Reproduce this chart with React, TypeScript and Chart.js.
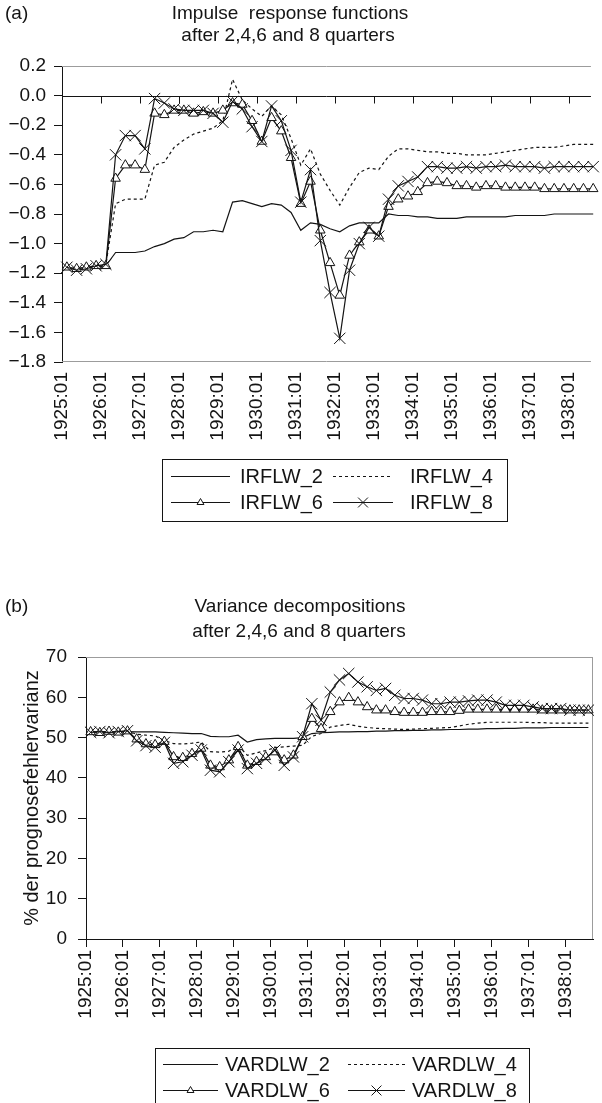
import React, { useEffect, useRef } from 'react';
import { Chart, registerables } from 'chart.js';

Chart.register(...registerables);

// ---------- data ----------
const xTickLabels = ['1925:01', '1926:01', '1927:01', '1928:01', '1929:01', '1930:01', '1931:01', '1932:01', '1933:01', '1934:01', '1935:01', '1936:01', '1937:01', '1938:01'];
const quartersPerLabel = 4;

const irfNames = ['IRFLW_2', 'IRFLW_4', 'IRFLW_6', 'IRFLW_8'];
const irfTicks = [-1.8, -1.6, -1.4, -1.2, -1.0, -0.8, -0.6, -0.4, -0.2, 0.0, 0.2];

const irflw2 = [-1.16, -1.17, -1.16, -1.16, -1.15, -1.06, -1.06, -1.06, -1.05, -1.02, -1.00, -0.97, -0.96, -0.92, -0.92, -0.91, -0.92, -0.72, -0.71, -0.73, -0.75, -0.73, -0.74, -0.79, -0.91, -0.86, -0.87, -0.90, -0.92, -0.88, -0.86, -0.86, -0.86, -0.80, -0.81, -0.81, -0.82, -0.82, -0.83, -0.83, -0.83, -0.82, -0.82, -0.82, -0.82, -0.82, -0.81, -0.81, -0.81, -0.81, -0.80, -0.80, -0.80, -0.80, -0.80];
const irflw4 = [-1.16, -1.17, -1.16, -1.15, -1.14, -0.73, -0.70, -0.70, -0.70, -0.47, -0.45, -0.35, -0.30, -0.26, -0.24, -0.22, -0.17, 0.11, -0.03, -0.09, -0.14, -0.07, -0.13, -0.29, -0.47, -0.36, -0.53, -0.64, -0.74, -0.62, -0.52, -0.49, -0.50, -0.41, -0.36, -0.36, -0.37, -0.38, -0.38, -0.39, -0.39, -0.40, -0.40, -0.40, -0.39, -0.38, -0.37, -0.36, -0.35, -0.35, -0.35, -0.34, -0.33, -0.33, -0.33];
const irflw6 = [-1.16, -1.17, -1.16, -1.15, -1.15, -0.56, -0.47, -0.47, -0.50, -0.12, -0.13, -0.10, -0.10, -0.12, -0.11, -0.12, -0.10, -0.05, -0.06, -0.17, -0.31, -0.15, -0.24, -0.42, -0.73, -0.58, -0.91, -1.13, -1.35, -1.08, -0.99, -0.91, -0.95, -0.75, -0.70, -0.68, -0.65, -0.59, -0.58, -0.59, -0.61, -0.61, -0.62, -0.61, -0.61, -0.62, -0.62, -0.62, -0.62, -0.63, -0.63, -0.63, -0.63, -0.63, -0.63];
const irflw8 = [-1.16, -1.18, -1.17, -1.15, -1.14, -0.40, -0.27, -0.27, -0.36, -0.02, -0.05, -0.09, -0.10, -0.10, -0.10, -0.12, -0.18, -0.04, -0.09, -0.21, -0.31, -0.07, -0.17, -0.37, -0.72, -0.50, -0.98, -1.33, -1.64, -1.18, -1.00, -0.89, -0.95, -0.70, -0.61, -0.58, -0.55, -0.48, -0.48, -0.49, -0.49, -0.48, -0.49, -0.48, -0.48, -0.47, -0.48, -0.48, -0.48, -0.49, -0.48, -0.48, -0.48, -0.48, -0.48];

const varNames = ['VARDLW_2', 'VARDLW_4', 'VARDLW_6', 'VARDLW_8'];
const varTicks = [0, 10, 20, 30, 40, 50, 60, 70];

const vardlw2 = [51.5, 51.4, 51.4, 51.4, 51.5, 51.4, 51.4, 51.4, 51.3, 51.2, 51.1, 51.0, 51.0, 50.3, 50.2, 50.2, 50.6, 48.9, 49.5, 49.7, 49.8, 49.8, 49.8, 50.0, 51.0, 51.2, 51.3, 51.4, 51.4, 51.5, 51.5, 51.6, 51.6, 51.7, 51.7, 51.8, 51.8, 51.9, 51.9, 52.0, 52.0, 52.1, 52.1, 52.2, 52.2, 52.3, 52.3, 52.4, 52.4, 52.4, 52.5, 52.5, 52.5, 52.5, 52.5];
const vardlw4 = [51.5, 51.3, 51.4, 51.4, 51.6, 50.8, 50.6, 50.4, 49.3, 48.5, 48.4, 48.6, 48.9, 46.5, 46.4, 46.6, 48.1, 45.6, 46.2, 46.8, 47.5, 47.7, 47.9, 48.1, 50.3, 51.0, 52.6, 53.0, 53.3, 52.8, 52.5, 52.3, 52.2, 52.1, 52.0, 52.1, 52.2, 52.3, 52.4, 52.5, 52.9, 53.3, 53.6, 53.8, 53.8, 53.8, 53.8, 53.8, 53.7, 53.7, 53.6, 53.6, 53.6, 53.6, 53.6];
const vardlw6 = [51.4, 51.2, 51.5, 51.3, 51.6, 49.6, 48.4, 48.2, 49.0, 45.2, 45.0, 46.0, 47.3, 43.1, 42.7, 44.4, 47.7, 43.1, 44.0, 45.2, 46.4, 44.4, 45.6, 50.2, 54.7, 52.2, 56.4, 58.8, 59.9, 58.8, 57.6, 56.8, 56.8, 56.4, 56.2, 56.2, 56.2, 56.4, 56.4, 56.4, 56.7, 57.0, 57.0, 57.0, 57.0, 57.0, 57.0, 57.0, 57.0, 56.8, 56.8, 56.8, 56.8, 56.8, 56.8];
const vardlw8 = [51.3, 51.5, 51.2, 51.5, 51.7, 49.2, 48.0, 47.6, 48.8, 43.6, 44.0, 45.6, 46.9, 41.9, 41.5, 44.0, 46.9, 42.3, 43.6, 44.8, 46.9, 43.1, 45.2, 50.2, 58.4, 54.3, 61.3, 64.3, 65.9, 63.8, 62.6, 61.7, 62.2, 60.5, 59.7, 59.7, 59.3, 58.4, 58.4, 58.8, 58.8, 59.1, 59.3, 59.3, 58.8, 58.0, 58.0, 58.0, 57.6, 57.2, 57.2, 57.2, 56.8, 56.8, 56.8];

// ---------- styling ----------
const FONT = "'Liberation Sans', Arial, Helvetica, sans-serif";
const INK = '#141414';
const FRAME = '#9c9c9c';

type Marker = 'none' | 'triangle' | 'crossRot';
const seriesDash: number[][] = [[], [3, 3], [], []];
const seriesMarker: Marker[] = ['none', 'none', 'triangle', 'crossRot'];

function drawMarker(ctx: CanvasRenderingContext2D, m: Marker, x: number, y: number, r: number) {
  if (m === 'none') return;
  ctx.save();
  ctx.setLineDash([]);
  ctx.lineWidth = 1;
  ctx.strokeStyle = INK;
  ctx.fillStyle = '#fff';
  ctx.beginPath();
  if (m === 'triangle') {
    ctx.moveTo(x, y - r);
    ctx.lineTo(x + 0.866 * r, y + 0.5 * r);
    ctx.lineTo(x - 0.866 * r, y + 0.5 * r);
    ctx.closePath();
    ctx.fill();
  } else {
    const d = r * Math.SQRT1_2;
    ctx.moveTo(x - d, y - d);
    ctx.lineTo(x + d, y + d);
    ctx.moveTo(x + d, y - d);
    ctx.lineTo(x - d, y + d);
  }
  ctx.stroke();
  ctx.restore();
}

interface Decor {
  tag: string;
  tagY: number;
  titles: string[];
  titleXs: number[];
  titleYs: number[];
  zeroLine: boolean;
  frameBottom: boolean;
  frameRight: boolean;
  yTitle?: string;
  yTitleX?: number;
  legend: {
    names: string[];
    box: number[];
    rows: number[];
    lineX: number[][];
    textX: number[];
    triR: number;
    crossR: number;
  };
}

function makeDecorPlugin(d: Decor) {
  return {
    id: 'decor',
    beforeDatasetsDraw(chart: any) {
      const { ctx, chartArea: a } = chart;
      const xs = chart.scales.x;
      const ys = chart.scales.y;
      ctx.save();
      ctx.lineWidth = 1;
      ctx.strokeStyle = FRAME;
      ctx.beginPath();
      const t = Math.round(a.top) + 0.5;
      ctx.moveTo(a.left, t);
      ctx.lineTo(a.right, t);
      if (d.frameBottom) {
        const b = Math.round(a.bottom) - 0.5;
        ctx.moveTo(a.left, b);
        ctx.lineTo(a.right, b);
      }
      if (d.frameRight) {
        const r = Math.round(a.right) - 0.5;
        ctx.moveTo(r, a.top);
        ctx.lineTo(r, a.bottom);
      }
      ctx.stroke();
      if (d.zeroLine) {
        const y0 = Math.round(ys.getPixelForValue(0)) + 0.5;
        ctx.strokeStyle = INK;
        ctx.beginPath();
        ctx.moveTo(a.left, y0);
        ctx.lineTo(a.right, y0);
        for (const tk of xs.ticks) {
          const px = Math.round(xs.getPixelForValue(tk.value)) + 0.5;
          ctx.moveTo(px, y0);
          ctx.lineTo(px, y0 + 7);
        }
        ctx.stroke();
      }
      ctx.restore();
    },
    afterDraw(chart: any) {
      const { ctx, chartArea: a } = chart;
      ctx.save();
      ctx.fillStyle = INK;
      ctx.font = `19px ${FONT}`;
      ctx.textBaseline = 'alphabetic';
      ctx.textAlign = 'left';
      ctx.fillText(d.tag, 5, d.tagY);
      ctx.textAlign = 'center';
      d.titles.forEach((s, k) => ctx.fillText(s, d.titleXs[k], d.titleYs[k]));
      if (d.yTitle) {
        ctx.save();
        ctx.translate(d.yTitleX as number, (a.top + a.bottom) / 2);
        ctx.rotate(-Math.PI / 2);
        ctx.font = `20px ${FONT}`;
        ctx.textAlign = 'center';
        ctx.textBaseline = 'middle';
        ctx.fillText(d.yTitle, 0, 0);
        ctx.restore();
      }
      // legend
      const L = d.legend;
      ctx.strokeStyle = INK;
      ctx.lineWidth = 1;
      ctx.strokeRect(L.box[0] + 0.5, L.box[1] + 0.5, L.box[2] - L.box[0], L.box[3] - L.box[1]);
      ctx.font = `20px ${FONT}`;
      ctx.textAlign = 'left';
      ctx.textBaseline = 'middle';
      L.names.forEach((name, k) => {
        const row = Math.floor(k / 2);
        const col = k % 2;
        const y = Math.round(L.rows[row]) + 0.5;
        const [x0, x1] = L.lineX[col];
        ctx.save();
        ctx.setLineDash(seriesDash[k]);
        ctx.lineWidth = 1.2;
        ctx.beginPath();
        ctx.moveTo(x0, y);
        ctx.lineTo(x1, y);
        ctx.stroke();
        ctx.restore();
        const m = seriesMarker[k];
        drawMarker(ctx, m, (x0 + x1) / 2, y, m === 'triangle' ? L.triR : L.crossR);
        ctx.fillStyle = INK;
        ctx.fillText(name, L.textX[col], L.rows[row] + 1);
      });
      ctx.restore();
    },
  };
}

function buildDatasets(names: string[], series: number[][], triR: number, crossR: number) {
  return series.map((vals, k) => {
    const m = seriesMarker[k];
    return {
      label: names[k],
      data: vals.map((v, i) => ({ x: i + 0.5, y: v })),
      borderColor: INK,
      backgroundColor: '#fff',
      borderWidth: 1.2,
      borderDash: seriesDash[k],
      pointStyle: m === 'none' ? 'circle' : m,
      pointRadius: m === 'none' ? 0 : m === 'triangle' ? triR : crossR,
      pointBorderWidth: 1,
      pointBorderColor: INK,
      pointBackgroundColor: '#fff',
      pointHoverRadius: 0,
      tension: 0,
      clip: false,
      order: 3 - k,
    };
  });
}

interface ChartParams {
  datasets: any[];
  padTop: number;
  padRight: number;
  yAxisWidth: number;
  xAxisHeight: number;
  xMax: number;
  xPad: number;
  xTickMarks: boolean;
  xBorder: boolean;
  yMin: number;
  yMax: number;
  yTicks: number[];
  yPad: number;
  yFmt: (v: number) => string;
  decor: Decor;
}

function makeChart(canvas: HTMLCanvasElement, p: ChartParams) {
  return new Chart(canvas, {
    type: 'line',
    data: { datasets: p.datasets },
    options: {
      responsive: false,
      animation: false,
      events: [],
      layout: { padding: { left: 0, top: p.padTop, right: p.padRight, bottom: 0 } },
      plugins: { legend: { display: false }, tooltip: { enabled: false }, title: { display: false } },
      scales: {
        x: {
          type: 'linear',
          min: 0,
          max: p.xMax,
          afterBuildTicks: (s: any) => {
            s.ticks = xTickLabels.map((_, j) => ({ value: j * quartersPerLabel }));
          },
          afterFit: (s: any) => {
            s.height = p.xAxisHeight;
          },
          ticks: {
            autoSkip: false,
            minRotation: 90,
            maxRotation: 90,
            padding: p.xPad,
            color: INK,
            font: { size: 19, family: FONT },
            callback: (v: any) => xTickLabels[Math.round(Number(v) / quartersPerLabel)],
          },
          grid: {
            display: p.xTickMarks,
            drawOnChartArea: false,
            drawTicks: p.xTickMarks,
            tickLength: 8,
            tickColor: INK,
          },
          border: { display: p.xBorder, color: p.xBorder ? INK : FRAME, width: 1 },
        },
        y: {
          type: 'linear',
          min: p.yMin,
          max: p.yMax,
          afterBuildTicks: (s: any) => {
            s.ticks = p.yTicks.map((v) => ({ value: v }));
          },
          afterFit: (s: any) => {
            s.width = p.yAxisWidth;
          },
          ticks: {
            padding: p.yPad,
            color: INK,
            font: { size: 19, family: FONT },
            callback: (v: any) => p.yFmt(Number(v)),
          },
          grid: {
            display: true,
            drawOnChartArea: false,
            drawTicks: true,
            tickLength: 8,
            tickColor: INK,
          },
          border: { display: true, color: INK, width: 1 },
        },
      },
    } as any,
    plugins: [makeDecorPlugin(p.decor)],
  });
}

const fmtIrf = (v: number) => (Math.abs(v) < 1e-9 ? '0.0' : v.toFixed(1).replace('-', '\u2212'));
const fmtVar = (v: number) => String(Math.round(v));

export default function App() {
  const topRef = useRef<HTMLCanvasElement>(null);
  const botRef = useRef<HTMLCanvasElement>(null);

  useEffect(() => {
    const charts: Chart[] = [];
    if (topRef.current) {
      charts.push(
        makeChart(topRef.current, {
          datasets: buildDatasets(irfNames, [irflw2, irflw4, irflw6, irflw8], 5.5, 8),
          padTop: 66,
          padRight: 0,
          yAxisWidth: 62,
          xAxisHeight: 198,
          xMax: 54.27,
          xPad: 10,
          xTickMarks: false,
          xBorder: false,
          yMin: -1.8,
          yMax: 0.2,
          yTicks: irfTicks,
          yPad: 8,
          yFmt: fmtIrf,
          decor: {
            tag: '(a)',
            tagY: 19,
            titles: ['Impulse  response functions', 'after 2,4,6 and 8 quarters'],
            titleXs: [290, 288],
            titleYs: [19, 41],
            zeroLine: true,
            frameBottom: true,
            frameRight: false,
            legend: {
              names: irfNames,
              box: [162, 459, 507, 521],
              rows: [476, 502],
              lineX: [[171, 230], [333, 393]],
              textX: [240, 410],
              triR: 4,
              crossR: 7,
            },
          },
        })
      );
    }
    if (botRef.current) {
      charts.push(
        makeChart(botRef.current, {
          datasets: buildDatasets(varNames, [vardlw2, vardlw4, vardlw6, vardlw8], 5.5, 8),
          padTop: 97,
          padRight: 5,
          yAxisWidth: 86,
          xAxisHeight: 164,
          xMax: 55,
          xPad: 3,
          xTickMarks: true,
          xBorder: true,
          yMin: 0,
          yMax: 70,
          yTicks: varTicks,
          yPad: 11,
          yFmt: fmtVar,
          decor: {
            tag: '(b)',
            tagY: 52,
            titles: ['Variance decompositions', 'after 2,4,6 and 8 quarters'],
            titleXs: [300, 299],
            titleYs: [52, 77],
            zeroLine: false,
            frameBottom: false,
            frameRight: true,
            yTitle: '% der prognosefehlervarianz',
            yTitleX: 32,
            legend: {
              names: varNames,
              box: [155, 488, 529, 560],
              rows: [504, 530],
              lineX: [[163, 218], [348, 405]],
              textX: [225, 412],
              triR: 4,
              crossR: 7,
            },
          },
        })
      );
    }
    return () => charts.forEach((c) => c.destroy());
  }, []);

  return (
    <div style={{ position: 'absolute', left: 0, top: 0, width: 602, height: 1103, background: '#fff', overflow: 'hidden' }}>
      <canvas ref={topRef} width={602} height={560} style={{ position: 'absolute', left: 0, top: 0, width: 602, height: 560 }} />
      <canvas ref={botRef} width={602} height={543} style={{ position: 'absolute', left: 0, top: 560, width: 602, height: 543 }} />
    </div>
  );
}
